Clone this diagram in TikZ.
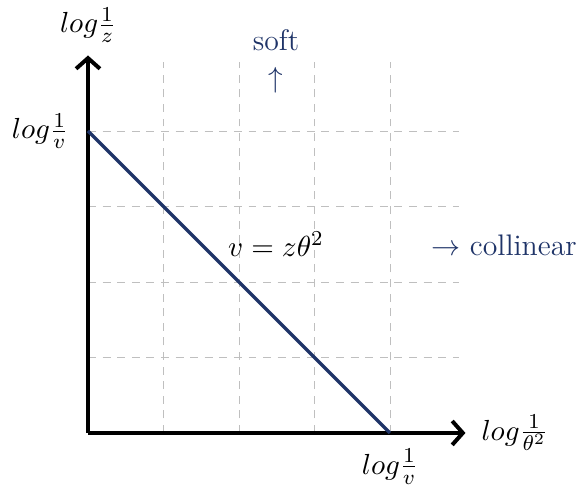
\documentclass[tikz,border=0pt]{standalone}
\definecolor{navy}{RGB}{31,52,104}
\tikzset{
  lbl/.style={font=\fontsize{11.2}{14}\selectfont, inner sep=1pt},
  gridline/.style={gray!50, line width=0.35pt, dash pattern=on 3pt off 2.5pt},
  axis/.style={line width=1.5pt, -{Straight Barb[length=4pt,width=9pt,line width=1.5pt]}},
}
\usetikzlibrary{arrows.meta}
\begin{document}
\begin{tikzpicture}[x=1cm,y=1cm]
\useasboundingbox (-1.1656,-0.7947) rectangle (6.583,5.735);
\draw[gridline] (0,0) grid[step=1] (4.92,4.92);
\coordinate (O) at (0,0);
\coordinate (xe) at (5.0,0);
\coordinate (ye) at (0,5.0);
\draw[axis] (O) -- (xe);
\draw[axis] (O) -- (ye);
\coordinate (A) at (0,4);
\coordinate (B) at (4,0);
\draw[navy, line width=1.3pt] (A) -- (B);
\node[lbl, anchor=south] (lz) at (0,5.13) {$log\frac{1}{z}$};
\node[lbl, anchor=east] (lvl) at (-0.22,4) {$log\frac{1}{v}$};
\node[lbl, anchor=north] (lvb) at (4,-0.17) {$log\frac{1}{v}$};
\node[lbl, anchor=west] (lt) at (5.17,0) {$log\frac{1}{\theta^2}$};
\node[lbl] (eq) at (2.49,2.5) {$v=z\theta^2$};
\node[lbl, navy, align=center] (soft) at (2.49,4.92) {soft\\[0pt]$\uparrow$};
\node[lbl, navy] (coll) at (5.51,2.48) {$\rightarrow$ collinear};
\end{tikzpicture}
\end{document}
